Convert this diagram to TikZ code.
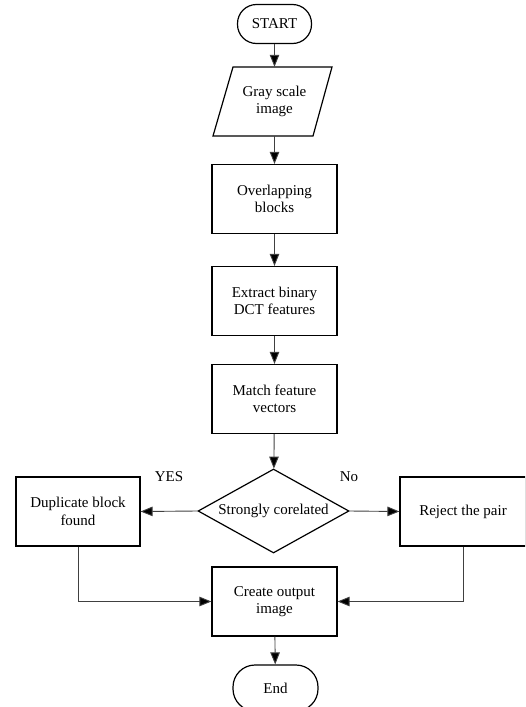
\documentclass[tikz,border=0pt]{standalone}
\usepackage{fontspec}
\setmainfont{Liberation Serif}
\usetikzlibrary{shapes.geometric,arrows.meta}
\newcommand\fsz{\fontsize{15}{17.5}\selectfont}
\begin{document}
\begin{tikzpicture}[x=1pt,y=-1pt,
  box/.style={draw,line width=1.2pt,minimum width=125pt,minimum height=69pt,align=center,inner sep=2pt,font=\fsz},
  pill/.style={draw,line width=1.2pt,rounded corners=19pt,minimum height=39pt,inner sep=2pt,font=\fsz},
  conn/.style={line width=0.9pt,draw=black!75,-{Triangle[length=12pt,width=9.5pt,fill=black]}},
  lbl/.style={font=\fsz,inner sep=0pt}]
\clip (0,0) rectangle (525,707);
\useasboundingbox (0,0) rectangle (525,707);
\node[pill,minimum width=74pt] (start) at (274.5,24) {START};
\draw[line width=1.2pt] (233,67) -- (332,67) -- (313,136) -- (213,136) -- cycle;
\node[align=center,minimum width=100pt,minimum height=69pt,inner sep=0pt,font=\fsz] (gray) at (274.5,101.5) {Gray scale\\image};
\node[box] (over) at (274.5,199) {Overlapping\\blocks};
\node[box] (extract) at (274.5,301) {Extract binary\\DCT features};
\node[box] (match) at (274.5,399) {Match feature\\vectors};
\node[draw,line width=1.2pt,diamond,aspect=1.8,minimum width=151pt,minimum height=84pt,inner sep=0pt,font=\fsz] (dia) at (273.5,511) {Strongly corelated};
\node[box,minimum width=124pt] (dup) at (78,511.5) {Duplicate block\\found};
\node[box,minimum width=126pt] (rej) at (463,511.5) {Reject the pair};
\node[box] (create) at (274.5,601.5) {Create output\\image};
\node[pill,minimum width=85pt,minimum height=46pt,rounded corners=22pt] (end) at (275.5,688) {End};
\node[lbl] (yes) at (169,477) {YES};
\node[lbl] (no) at (349,477) {No};
\draw[conn] (start) -- (gray);
\draw[conn] (gray) -- (over);
\draw[conn] (over) -- (extract);
\draw[conn] (extract) -- (match);
\draw[conn] (match) -- (dia);
\draw[conn] (dia.west) -- (dup.east);
\draw[conn] (dia.east) -- (rej.west);
\draw[conn] (dup.south) |- (create.west);
\draw[conn] (rej.south) |- (create.east);
\draw[conn] (create) -- (end);
\end{tikzpicture}
\end{document}
